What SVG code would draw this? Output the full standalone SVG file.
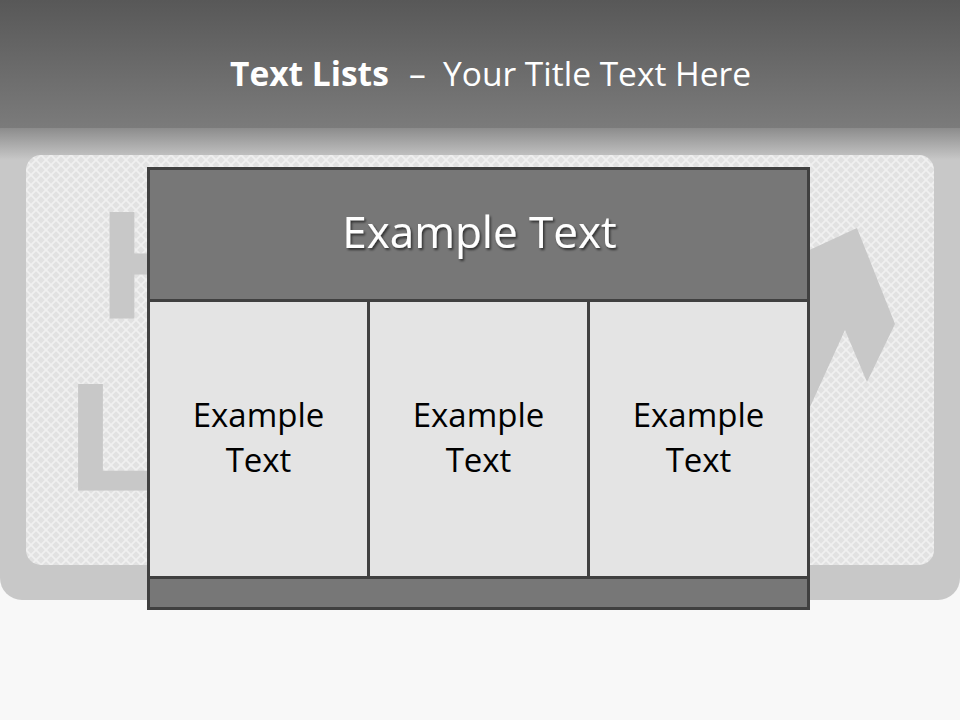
<svg xmlns="http://www.w3.org/2000/svg" width="960" height="720" viewBox="0 0 960 720">
  <defs>
    <linearGradient id="topGrad" x1="0" y1="0" x2="0" y2="1">
      <stop offset="0" stop-color="#585858"/>
      <stop offset="1" stop-color="#7b7b7b"/>
    </linearGradient>
    <linearGradient id="fadeGrad" x1="0" y1="0" x2="0" y2="1">
      <stop offset="0" stop-color="#8c8c8c"/>
      <stop offset="1" stop-color="#c8c8c8"/>
    </linearGradient>
    <pattern id="diamonds" x="26" y="155" width="10" height="10" patternUnits="userSpaceOnUse">
      <rect width="10" height="10" fill="#f0f0f0"/>
      <polygon points="5,1.3 8.7,5 5,8.7 1.3,5" fill="#e2e2e2"/>
      <polygon points="0,-3.7 3.7,0 0,3.7 -3.7,0" fill="#e2e2e2"/>
      <polygon points="10,-3.7 13.7,0 10,3.7 6.3,0" fill="#e2e2e2"/>
      <polygon points="0,6.3 3.7,10 0,13.7 -3.7,10" fill="#e2e2e2"/>
      <polygon points="10,6.3 13.7,10 10,13.7 6.3,10" fill="#e2e2e2"/>
    </pattern>
    <filter id="shadow" x="-10%" y="-30%" width="120%" height="160%">
      <feDropShadow dx="1.5" dy="2" stdDeviation="1" flood-color="#000000" flood-opacity="0.6"/>
    </filter>
    <style>
      .title { font-family: "Open Sans", "Liberation Sans", sans-serif; font-size: 33.5px; fill: #ffffff; }
      .deco { font-family: "Liberation Sans", Arial, sans-serif; font-weight: 700; font-size: 151px; fill: #c8c8c8; stroke: #c8c8c8; stroke-width: 3; }
      .head { font-family: "Open Sans", "Liberation Sans", sans-serif; font-size: 44px; fill: #ffffff; text-anchor: middle; }
      .cell { font-family: "Open Sans", "Liberation Sans", sans-serif; font-size: 33px; fill: #000000; text-anchor: middle; }
      .bar { fill: #777777; stroke: #404040; stroke-width: 3; }
      .box { fill: #e4e4e4; stroke: #404040; stroke-width: 3; }
    </style>
  </defs>

  <!-- background -->
  <rect x="0" y="0" width="960" height="720" fill="#f8f8f8"/>
  <rect x="0" y="100" width="960" height="500" rx="22" ry="22" fill="#c8c8c8"/>
  <rect x="0" y="128" width="960" height="32" fill="url(#fadeGrad)"/>
  <rect x="0" y="0" width="960" height="128" fill="url(#topGrad)"/>
  <rect x="26" y="155" width="908" height="410" rx="15" ry="15" fill="url(#diamonds)"/>

  <!-- decorative background shapes -->
  <text class="deco" x="101" y="316.5">H</text>
  <text class="deco" x="69.5" y="488.5">L</text>
  <polygon points="857,228 895,324 867,382 845,330 790,451 790,259" fill="#c8c8c8"/>

  <!-- title -->
  <text class="title" y="86"><tspan x="230" font-weight="700">Text Lists</tspan><tspan x="409">–</tspan><tspan x="443">Your Title Text Here</tspan></text>

  <!-- table nodes -->
  <g id="header">
    <rect class="bar" x="148.5" y="168.5" width="660" height="132"/>
    <text class="head" x="479.5" y="248" filter="url(#shadow)">Example Text</text>
  </g>
  <g id="cell1">
    <rect class="box" x="148.5" y="300.5" width="220" height="277"/>
    <text class="cell" x="258.5" y="427">Example</text>
    <text class="cell" x="258.5" y="472">Text</text>
  </g>
  <g id="cell2">
    <rect class="box" x="368.5" y="300.5" width="220" height="277"/>
    <text class="cell" x="478.5" y="427">Example</text>
    <text class="cell" x="478.5" y="472">Text</text>
  </g>
  <g id="cell3">
    <rect class="box" x="588.5" y="300.5" width="220" height="277"/>
    <text class="cell" x="698.5" y="427">Example</text>
    <text class="cell" x="698.5" y="472">Text</text>
  </g>
  <g id="footer">
    <rect class="bar" x="148.5" y="577.5" width="660" height="31"/>
  </g>
  <g id="connectors"></g>
</svg>
